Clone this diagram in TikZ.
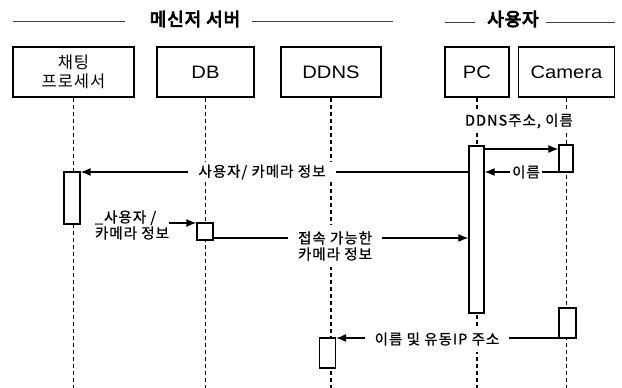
\documentclass[tikz,border=0pt]{standalone}
\usepackage{fontspec}
\setmainfont{Liberation Sans}[FakeStretch=1.12]
\newfontfamily\kr{Noto Sans CJK KR}[LetterSpace=7,FakeBold=0.8]
\newfontfamily\krbox{Noto Sans CJK KR}[LetterSpace=6]
\newfontfamily\krb{Noto Sans CJK KR}[FakeBold=5,LetterSpace=5]
\usetikzlibrary{arrows.meta}
\begin{document}
\begin{tikzpicture}[x=1pt,y=-1pt,
  hdr/.style={font=\krb\fontsize{18}{20}\selectfont, inner sep=0pt},
  hline/.style={line width=0.9pt, black!75},
  actor/.style={draw, line width=1.2pt, minimum height=50pt, inner sep=0pt, font=\fontsize{18}{20}\selectfont, align=center},
  life/.style={line width=1.1pt, dash pattern=on 4pt off 3pt},
  act/.style={draw, fill=white, line width=1.2pt, inner sep=0pt},
  msg/.style={line width=1.3pt, -{Latex[length=10pt,width=8pt]}},
  lbl/.style={fill=white, font=\kr\fontsize{14.5}{16}\selectfont, inner xsep=10pt, inner ysep=3pt, align=center}]
\useasboundingbox (0,0) rectangle (622,388);
% headers
\node[hdr] (h1) at (195,19) {메신저 서버};
\coordinate (h1a) at (13,21);
\coordinate (h1b) at (393,21);
\draw[hline] (h1a) -- ([xshift=-25pt]h1.west |- h1a);
\draw[hline] ([xshift=12pt]h1.east |- h1b) -- (h1b);
\node[hdr] (h2) at (513,19) {사용자};
\coordinate (h2a) at (445,22);
\coordinate (h2b) at (615,22);
\draw[hline] (h2a) -- ([xshift=-12pt]h2.west |- h2a);
\draw[hline] ([xshift=7pt]h2.east |- h2b) -- (h2b);
% actors
\node[actor, minimum width=121pt] (chat) at (73.5,72) {\krbox\fontsize{16.5}{18}\selectfont 채팅\\[-1pt]\krbox\fontsize{16.5}{18}\selectfont 프로세서};
\node[actor, minimum width=97pt] (db) at (205.5,72) {DB};
\node[actor, minimum width=100pt] (ddns) at (331,72) {DDNS};
\node[actor, minimum width=64pt] (pc) at (477,72) {PC};
\node[actor, minimum width=96pt] (cam) at (566.5,72) {Camera};
% lifeline ends
\coordinate (chatE) at (73.5,388);
\coordinate (dbE) at (205.5,388);
\coordinate (ddnsE) at (331,388);
\coordinate (pcE) at (477,388);
\coordinate (camE) at (566.5,388);
\draw[life] (chat.south) -- (chatE);
\draw[life] (db.south) -- (dbE);
\draw[life] (ddns.south) -- (ddnsE);
\draw[life] (pc.south) -- (pcE);
\draw[life] (cam.south) -- (camE);
% activations
\node[act, minimum width=16pt, minimum height=52pt] (a1) at (72,198) {};
\node[act, minimum width=16pt, minimum height=17pt] (a2) at (205,231.5) {};
\node[act, minimum width=15pt, minimum height=167pt] (a3) at (476.5,229.5) {};
\node[act, minimum width=14pt, minimum height=27pt] (a4) at (566,158.5) {};
\node[act, minimum width=17pt, minimum height=30pt] (a5) at (567.5,323) {};
\node[act, minimum width=16pt, minimum height=30pt] (a6) at (327.5,353) {};
% messages
\draw[msg] (a3.east |- 0,149) -- (a4.west |- 0,149);
\node[lbl, inner xsep=3pt] (l1) at (519,121) {DDNS주소, 이름};
\draw[msg] (a4.west |- 0,172) -- (a3.east |- 0,172);
\node[lbl, inner xsep=2pt, inner ysep=1pt] (l2) at (526,172) {이름};
\draw[msg] (a3.west |- 0,172) -- (a1.east |- 0,172);
\node[lbl] (l3) at (262,172) {사용자/ 카메라 정보};
\node[lbl, fill=none, inner sep=0pt, align=left] (l4) at (132,225) {\_사용자 /\\카메라 정보};
\draw[msg] (l4.east |- 0,223) -- (a2.west |- 0,223);
\draw[msg] (a2.east |- 0,238) -- (a3.west |- 0,238);
\node[lbl, inner ysep=6pt] (l5) at (335,246) {접속 가능한\\카메라 정보};
\draw[msg] (a5.west |- 0,338) -- (a6.east |- 0,338);
\node[lbl, inner ysep=6pt] (l6) at (437,339) {이름 및 유동IP 주소};
\end{tikzpicture}
\end{document}
